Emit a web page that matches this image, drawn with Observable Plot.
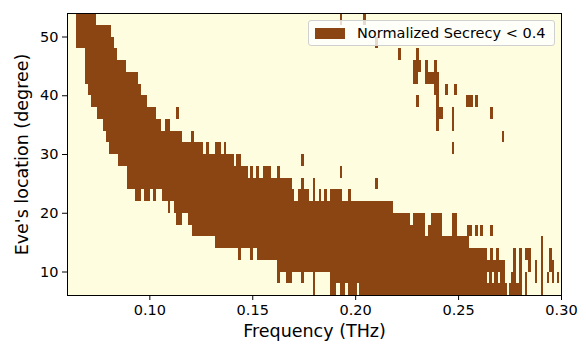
<!DOCTYPE html>
<html>
<head>
<meta charset="utf-8">
<script src="https://cdn.jsdelivr.net/npm/d3@7"></script>
<script src="https://cdn.jsdelivr.net/npm/@observablehq/plot@0.6"></script>
<style>
  html, body { margin: 0; padding: 0; background: white; }
  #wrap { position: relative; width: 586px; height: 344px; font-family: "DejaVu Sans", sans-serif; }
  #legend {
    position: absolute; left: 308px; top: 20px; width: 247px; height: 26px;
    background: rgba(255,255,255,0.8); border: 1px solid #d0d0d0; border-radius: 3px;
    box-sizing: border-box;
  }
  #legend .patch { position: absolute; left: 6px; top: 7px; width: 30px; height: 11px; background: #8b4513; }
  #legend .lbl { position: absolute; left: 48px; top: 2px; font-size: 14.5px; line-height: 20px; color: #000; white-space: nowrap; }
</style>
</head>
<body>
<div id="wrap">
  <div id="chart"></div>
  <div id="legend"><span class="patch"></span><span class="lbl">Normalized Secrecy &lt; 0.4</span></div>
</div>
<script>
// Eve's location rows (lower edge, degree); each row spans 2 degrees
const rowBottoms = [6, 8, 10, 12, 14, 16, 18, 20, 22, 24, 26, 28, 30, 32, 34, 36, 38, 40, 42, 44, 46, 48, 50, 52];
const rowHeight = 2;

// Frequency intervals (THz) where normalized secrecy < 0.4, per row
const lowSecrecyRanges = [
  [[0.1793,0.1806],[0.1879,0.1908],[0.1924,0.1951],[0.1967,0.2008],[0.2021,0.2736],[0.2749,0.2809],[0.2827,0.2836],[0.2901,0.2911]],
  [[0.1620,0.1633],[0.1662,0.1691],[0.1736,0.1749],[0.1793,0.1806],[0.1879,0.2639],[0.2652,0.2663],[0.2675,0.2695],[0.2704,0.2728],[0.2756,0.2780],[0.2798,0.2812],[0.2827,0.2836],[0.2872,0.2885],[0.2901,0.2911],[0.2931,0.2943],[0.2955,0.2966],[0.2979,0.2989]],
  [[0.1620,0.2728],[0.2768,0.2780],[0.2798,0.2812],[0.2841,0.2854],[0.2872,0.2885],[0.2901,0.2911],[0.2943,0.2965]],
  [[0.1431,0.1447],[0.1490,0.1503],[0.1523,0.2639],[0.2655,0.2668],[0.2684,0.2698],[0.2768,0.2780],[0.2798,0.2812],[0.2827,0.2854],[0.2901,0.2911],[0.2943,0.2955]],
  [[0.1320,0.2555],[0.2901,0.2911]],
  [[0.1205,0.2340],[0.2353,0.2424],[0.2469,0.2497],[0.2542,0.2567],[0.2583,0.2596],[0.2607,0.2620],[0.2655,0.2668]],
  [[0.1131,0.1160],[0.1189,0.2267],[0.2283,0.2340],[0.2369,0.2424],[0.2469,0.2497]],
  [[0.1089,0.1102],[0.1118,0.2183]],
  [[0.0932,0.0961],[0.0972,0.1001],[0.1016,0.1031],[0.1060,0.1705],[0.1722,0.1778],[0.1793,0.1806],[0.1822,0.1835],[0.1851,0.1864],[0.1879,0.1935],[0.1967,0.1979]],
  [[0.0890,0.1691],[0.1736,0.1749],[0.1793,0.1806],[0.2097,0.2110]],
  [[0.0890,0.1477],[0.1490,0.1503],[0.1519,0.1533],[0.1550,0.1591],[0.1620,0.1633],[0.1924,0.1935]],
  [[0.0846,0.1409],[0.1422,0.1447],[0.1736,0.1749]],
  [[0.0802,0.1261],[0.1275,0.1290],[0.1320,0.1348],[0.1361,0.1374],[0.2469,0.2482]],
  [[0.0788,0.1160],[0.1204,0.1217],[0.2712,0.2725]],
  [[0.0773,0.1058],[0.1076,0.1102],[0.2393,0.2409],[0.2469,0.2482]],
  [[0.0744,0.1034],[0.1131,0.1144],[0.2393,0.2426],[0.2469,0.2482],[0.2655,0.2668]],
  [[0.0715,0.0990],[0.2296,0.2309],[0.2393,0.2409],[0.2539,0.2572],[0.2583,0.2596]],
  [[0.0700,0.0961],[0.2383,0.2409],[0.2437,0.2453],[0.2482,0.2497]],
  [[0.0686,0.0947],[0.2280,0.2307],[0.2340,0.2409]],
  [[0.0686,0.0888],[0.2280,0.2319],[0.2340,0.2353],[0.2383,0.2397]],
  [[0.0686,0.0845],[0.2210,0.2223],[0.2296,0.2309]],
  [[0.0642,0.0830],[0.2097,0.2110]],
  [[0.0642,0.0816]],
  [[0.0642,0.0743],[0.1924,0.1937],[0.2040,0.2053]]
];

const xTicks = [0.10, 0.15, 0.20, 0.25, 0.30];
const yTicks = [10, 20, 30, 40, 50];
const xDomain = [0.06, 0.30];
const yDomain = [6, 54];
const xLabel = "Frequency (THz)";
const yLabel = "Eve's location (degree)";

const cells = [];
rowBottoms.forEach((y, i) => {
  for (const [f0, f1] of lowSecrecyRanges[i]) {
    cells.push({x1: f0, x2: f1, y1: y, y2: y + rowHeight});
  }
});

const chart = Plot.plot({
  width: 586,
  height: 344,
  marginLeft: 67,
  marginRight: 25,
  marginTop: 13,
  marginBottom: 49,
  style: {fontFamily: "DejaVu Sans, sans-serif", fontSize: "14.5px", color: "black", background: "white"},
  x: {domain: xDomain, axis: null},
  y: {domain: yDomain, axis: null},
  marks: [
    Plot.frame({fill: "#fffde0"}),
    Plot.rect(cells, {x1: "x1", x2: "x2", y1: "y1", y2: "y2", fill: "#8b4513", shapeRendering: "crispEdges"}),
    Plot.frame({stroke: "black", strokeWidth: 1}),
    Plot.axisX({ticks: xTicks, tickFormat: d3.format(".2f"), tickSize: 5, tickPadding: 4, fontSize: 14.5, label: null}),
    Plot.axisY({ticks: yTicks, tickFormat: d3.format("d"), tickSize: 5, tickPadding: 4, fontSize: 14.5, label: null}),
    Plot.text([xLabel], {text: d => d, frameAnchor: "bottom", dy: 36, textAnchor: "middle", lineAnchor: "middle", fontSize: 17.5}),
    Plot.text([yLabel], {text: d => d, frameAnchor: "left", dx: -45, rotate: -90, textAnchor: "middle", lineAnchor: "middle", fontSize: 17.5})
  ]
});
document.getElementById("chart").appendChild(chart);
</script>
</body>
</html>
